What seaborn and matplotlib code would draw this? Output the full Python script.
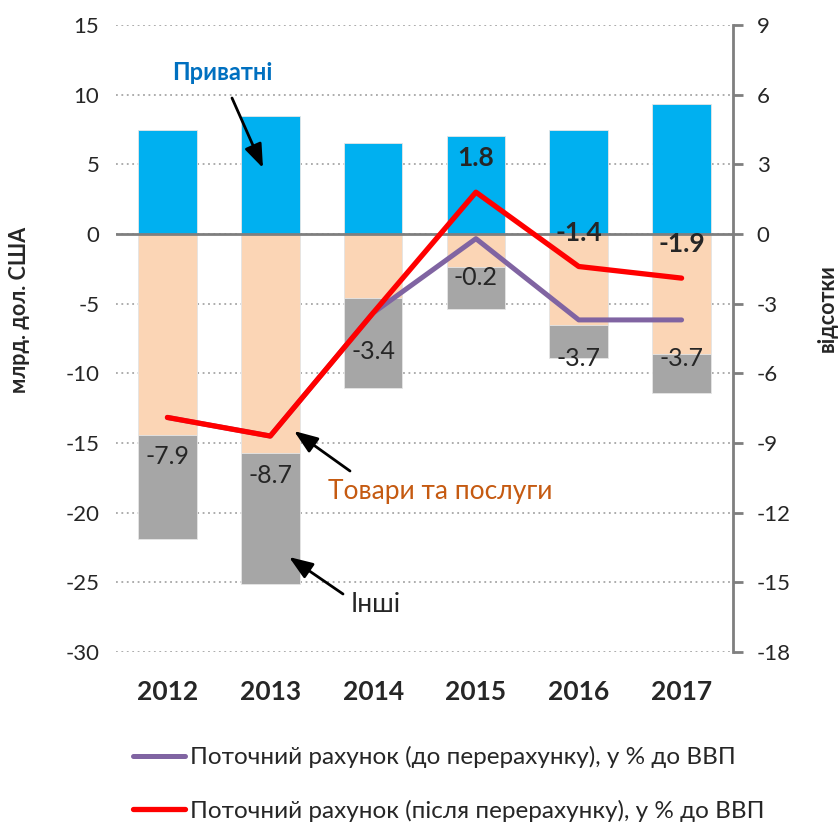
import matplotlib
matplotlib.use("Agg")
import matplotlib.pyplot as plt
import numpy as np
import pandas as pd
import seaborn as sns

# data
years = ["2012", "2013", "2014", "2015", "2016", "2017"]
private = [7.5, 8.5, 6.5, 7.0, 7.5, 9.3]              # blue, bln USD
goods_services = [-14.4, -15.7, -4.6, -2.4, -6.5, -8.6]  # peach, bln USD
other = [-7.5, -9.4, -6.45, -3.0, -2.4, -2.8]          # grey, bln USD
ca_before = [-7.9, -8.7, -3.4, -0.2, -3.7, -3.7]       # % of GDP
ca_after = [-7.9, -8.7, -3.4, 1.8, -1.4, -1.9]         # % of GDP

label_before = "Поточний рахунок (до перерахунку), у % до ВВП"
label_after = "Поточний рахунок (після перерахунку), у % до ВВП"

sns.set_style("white")
plt.rcParams["font.family"] = ["Lato", "DejaVu Sans"]
plt.rcParams["axes.unicode_minus"] = False

df = pd.DataFrame({"year": years, "private": private,
                   "goods": goods_services, "other": other})
df["neg_total"] = df["goods"] + df["other"]

W, H = 839, 833
fig = plt.figure(figsize=(W / 100, H / 100), dpi=100)
ax = fig.add_axes([116 / W, 1 - 652 / H, (733 - 116) / W, (652 - 25) / H])

bw = 0.57
edge = dict(edgecolor="#E6E6E6", linewidth=0.6)
sns.barplot(data=df, x="year", y="private", color="#00B0F0", saturation=1,
            width=bw, ax=ax, **edge)
sns.barplot(data=df, x="year", y="neg_total", color="#A6A6A6", saturation=1,
            width=bw, ax=ax, **edge)
sns.barplot(data=df, x="year", y="goods", color="#FBD5B5", saturation=1,
            width=bw, ax=ax, **edge)

ax.set_ylim(-30, 15)
ax.set_yticks(range(-30, 16, 5))
ax.set_xlim(-0.5, 5.5)
ax.set_axisbelow(True)
ax.grid(axis="y", color="#A6A6A6", linestyle=(0, (1, 2)), linewidth=1.3)
ax.axhline(0, color="#7F7F7F", linewidth=2, zorder=3)
for s in ax.spines.values():
    s.set_visible(False)
ax.tick_params(axis="y", length=0, pad=12, labelsize=16)
ax.tick_params(axis="x", length=0, pad=20, labelsize=19)
for t in ax.get_xticklabels():
    t.set_fontweight("bold")
ax.set_xlabel("")
ax.set_ylabel("")

ax2 = ax.twinx()
xs = np.arange(len(years))
sns.lineplot(x=xs, y=ca_before, color="#8064A2", linewidth=3.6, ax=ax2,
             label=label_before, solid_capstyle="round")
sns.lineplot(x=xs, y=ca_after, color="#FF0000", linewidth=3.8, ax=ax2,
             label=label_after, solid_capstyle="round")
ax2.set_ylim(-18, 9)
ax2.set_yticks(range(-18, 10, 3))
for name, s in ax2.spines.items():
    s.set_visible(name == "right")
ax2.spines["right"].set_color("#7F7F7F")
ax2.spines["right"].set_linewidth(2)
ax2.tick_params(axis="y", direction="out", length=7, width=2, color="#7F7F7F",
                pad=10, labelsize=16)
ax2.set_ylabel("")

# value labels
for i, v in enumerate(ca_before):
    ax2.annotate(f"{v:.1f}", (i, v), xytext=(0, -39), textcoords="offset pixels",
                 ha="center", va="center", fontsize=18)
for i, v in enumerate(ca_after):
    if i >= 3:
        ax2.annotate(f"{v:.1f}", (i, v), xytext=(0, 34), textcoords="offset pixels",
                     ha="center", va="center", fontsize=19, fontweight="bold")

# axis titles
fig.text(20 / W, 1 - 310 / H, "млрд. дол. США", rotation=90, ha="center", va="center",
         fontsize=15.5, fontweight="bold")
fig.text(827 / W, 1 - 308 / H, "відсотки", rotation=90, ha="center", va="center",
         fontsize=15.5, fontweight="bold")

# callouts
arrow = dict(arrowstyle="-|>,head_length=0.8,head_width=0.3", color="black",
             lw=2, mutation_scale=18, shrinkA=0, shrinkB=0)
ax.annotate("", xy=(263, H - 168), xytext=(232, H - 98), xycoords="figure pixels",
            textcoords="figure pixels", arrowprops=arrow)
ax.annotate("", xy=(294, H - 431), xytext=(350, H - 471), xycoords="figure pixels",
            textcoords="figure pixels", arrowprops=arrow)
ax.annotate("", xy=(289, H - 557), xytext=(343, H - 594), xycoords="figure pixels",
            textcoords="figure pixels", arrowprops=arrow)
fig.text(222 / W, 1 - 72 / H, "Приватні", ha="center", va="center", fontsize=17,
         fontweight="bold", color="#0070C0")
fig.text(440 / W, 1 - 491 / H, "Товари та послуги", ha="center", va="center",
         fontsize=19, color="#C55A11")
fig.text(376 / W, 1 - 604 / H, "Інші", ha="center", va="center", fontsize=19,
         color="#262626")

ax2.legend(loc="upper left", bbox_to_anchor=(133 / W, 1 - 746 / H),
           bbox_transform=fig.transFigure, frameon=False, fontsize=17.5,
           handlelength=2.15, handletextpad=0.2, labelspacing=1.3,
           borderaxespad=0, borderpad=0)

fig.savefig("out.png", dpi=100)
